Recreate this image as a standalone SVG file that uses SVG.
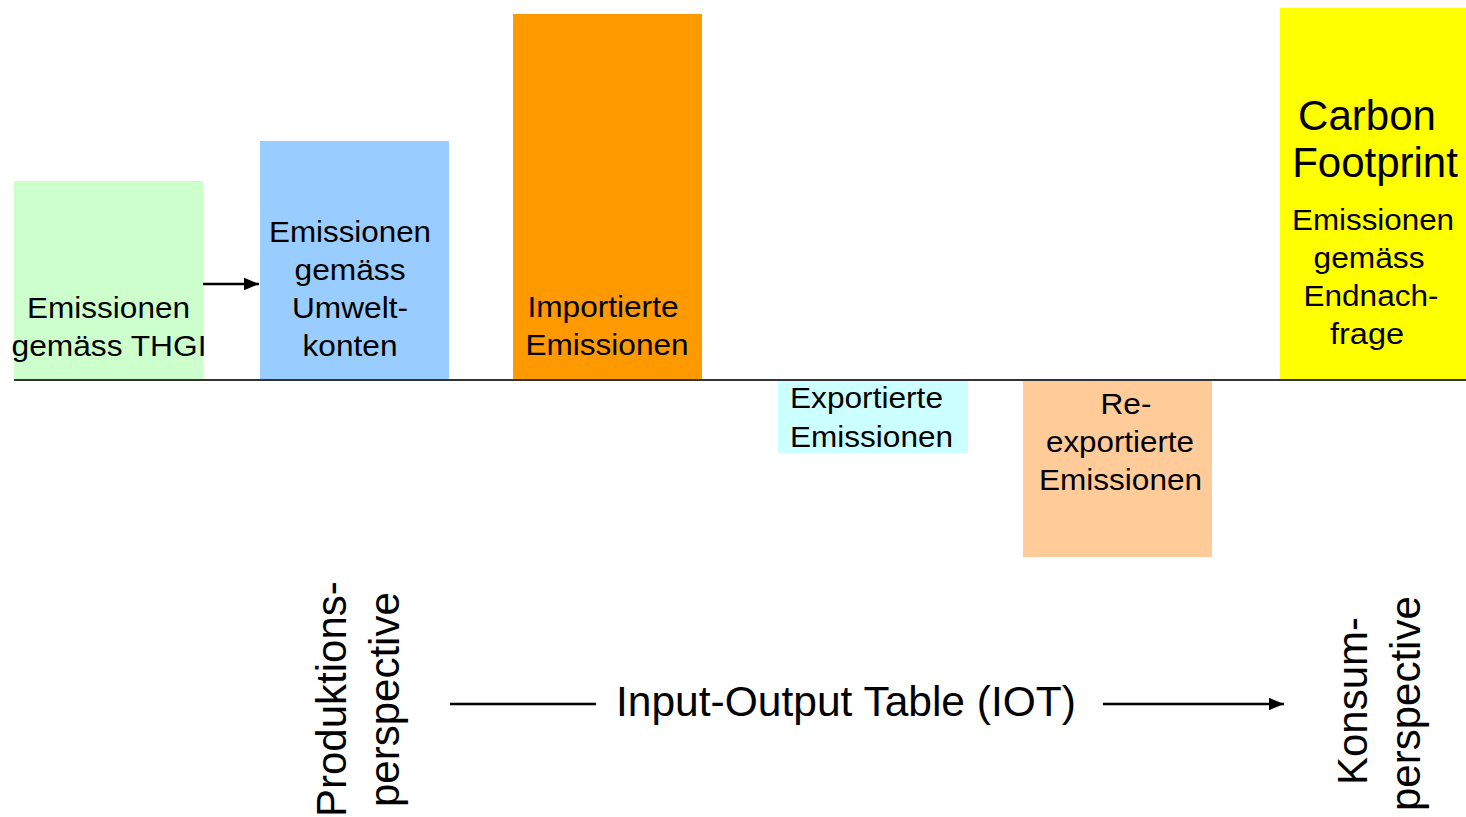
<svg xmlns="http://www.w3.org/2000/svg" width="1466" height="817" viewBox="0 0 1466 817">
<style>
text{font-family:"Liberation Sans",Arial,sans-serif;fill:#000}
.s{font-size:29px;text-anchor:middle}
.b{font-size:42px;text-anchor:middle}
.r{font-size:42px}
.ln{stroke:#000;stroke-width:2.5;fill:none}
</style>
<defs>
<marker id="ah" markerWidth="6" markerHeight="5" refX="6" refY="2.5" orient="auto" markerUnits="strokeWidth">
<path d="M0,0 L6,2.5 L0,5 Z" fill="#000"/>
</marker>
</defs>
<rect width="1466" height="817" fill="#fff"/>
<g id="thgi">
<rect x="14" y="181" width="189" height="199" fill="#CCFFCC"/>
<text class="s" x="108.5" y="318" textLength="163" lengthAdjust="spacingAndGlyphs">Emissionen</text>
<text class="s" x="109" y="356" textLength="195" lengthAdjust="spacingAndGlyphs">gemäss THGI</text>
</g>
<g id="umwelt">
<rect x="260" y="141" width="189" height="239" fill="#99CCFF"/>
<text class="s" x="350" y="242" textLength="162" lengthAdjust="spacingAndGlyphs">Emissionen</text>
<text class="s" x="350" y="280" textLength="111" lengthAdjust="spacingAndGlyphs">gemäss</text>
<text class="s" x="350" y="318" textLength="116" lengthAdjust="spacingAndGlyphs">Umwelt-</text>
<text class="s" x="350" y="356" textLength="95" lengthAdjust="spacingAndGlyphs">konten</text>
</g>
<g id="import">
<rect x="513" y="14" width="189" height="366" fill="#FF9900"/>
<text class="s" x="603" y="317" textLength="151" lengthAdjust="spacingAndGlyphs">Importierte</text>
<text class="s" x="607" y="355" textLength="163" lengthAdjust="spacingAndGlyphs">Emissionen</text>
</g>
<g id="export">
<rect x="778" y="381" width="190" height="72" fill="#CCFFFF"/>
<text class="s" x="866.5" y="408" textLength="153" lengthAdjust="spacingAndGlyphs">Exportierte</text>
<text class="s" x="871.5" y="447" textLength="163" lengthAdjust="spacingAndGlyphs">Emissionen</text>
</g>
<g id="reexport">
<rect x="1023" y="381" width="189" height="176" fill="#FFCC99"/>
<text class="s" x="1126" y="414" textLength="51" lengthAdjust="spacingAndGlyphs">Re-</text>
<text class="s" x="1120" y="452" textLength="148" lengthAdjust="spacingAndGlyphs">exportierte</text>
<text class="s" x="1120.5" y="490" textLength="163" lengthAdjust="spacingAndGlyphs">Emissionen</text>
</g>
<g id="footprint">
<rect x="1280" y="8" width="186" height="372" fill="#FFFF00"/>
<text class="b" x="1367" y="130">Carbon</text>
<text class="b" x="1375" y="177">Footprint</text>
<text class="s" x="1373" y="230" textLength="162" lengthAdjust="spacingAndGlyphs">Emissionen</text>
<text class="s" x="1369" y="268" textLength="111" lengthAdjust="spacingAndGlyphs">gemäss</text>
<text class="s" x="1371" y="306" textLength="135" lengthAdjust="spacingAndGlyphs">Endnach-</text>
<text class="s" x="1367" y="344" textLength="74" lengthAdjust="spacingAndGlyphs">frage</text>
</g>
<g id="produktion">
<text class="r" transform="translate(346,817) rotate(-90)">Produktions-</text>
<text class="r" transform="translate(399,807) rotate(-90)">perspective</text>
</g>
<g id="iot">
<text class="r" x="616" y="716" textLength="460" lengthAdjust="spacingAndGlyphs">Input-Output Table (IOT)</text>
</g>
<g id="konsum">
<text class="r" transform="translate(1367,785) rotate(-90)">Konsum-</text>
<text class="r" transform="translate(1420,811) rotate(-90)">perspective</text>
</g>
<g id="connectors">
<line x1="14" y1="380" x2="1466" y2="380" stroke="#333" stroke-width="2"/>
<line class="ln" x1="203" y1="284" x2="259" y2="284" marker-end="url(#ah)"/>
<line class="ln" x1="450" y1="704" x2="596" y2="704"/>
<line class="ln" x1="1103" y1="704" x2="1284" y2="704" marker-end="url(#ah)"/>
</g>
</svg>
